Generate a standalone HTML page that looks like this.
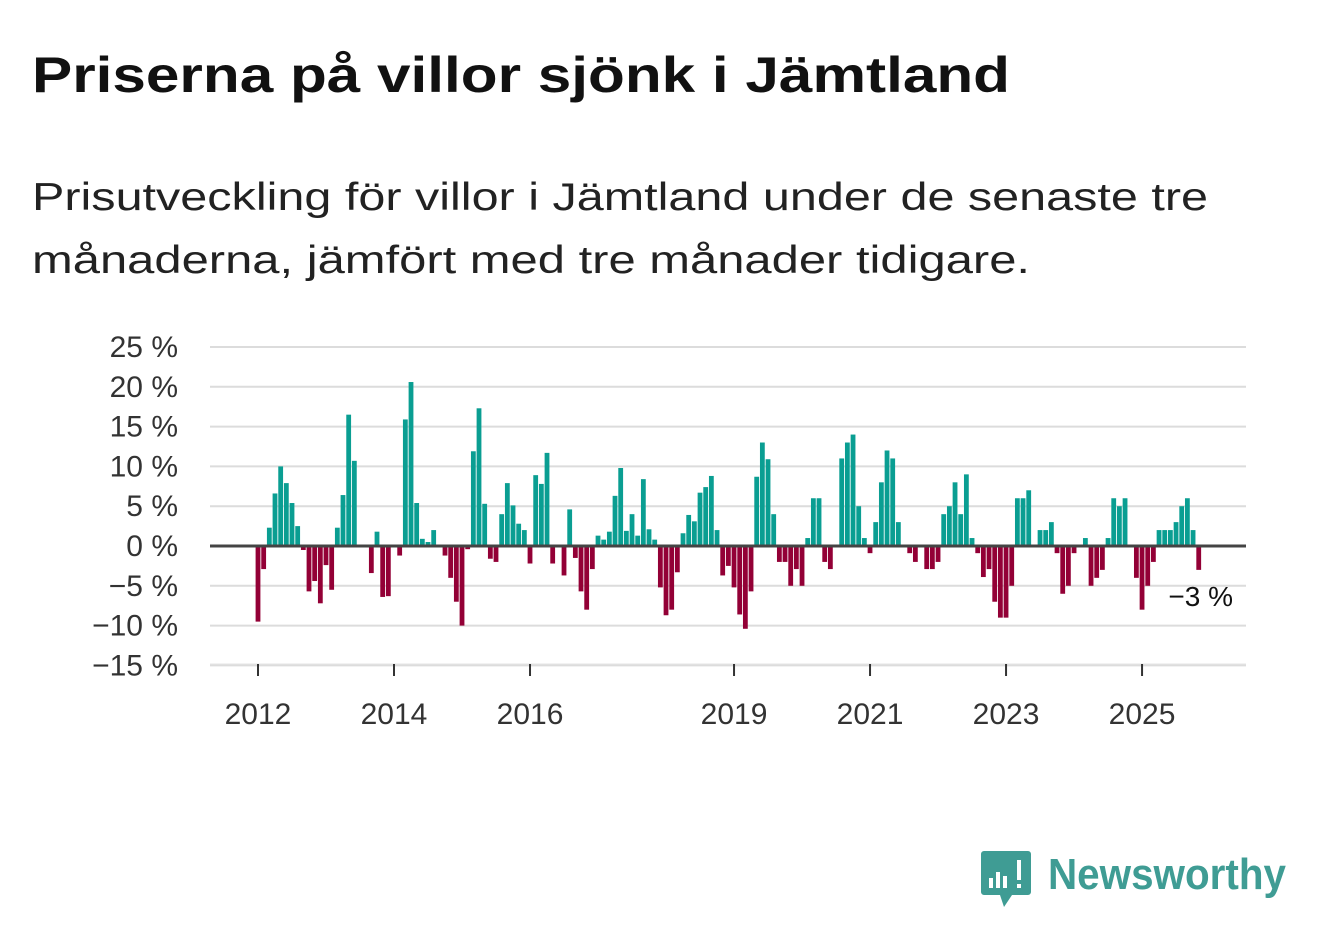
<!DOCTYPE html>
<html><head><meta charset="utf-8"><style>
html,body{margin:0;padding:0;background:#fff;}
svg{display:block;font-family:"Liberation Sans",sans-serif;}
</style></head><body>
<svg id="chart" width="1322" height="939" viewBox="0 0 1322 939" xmlns="http://www.w3.org/2000/svg">
<text x="32" y="92" font-size="50" font-weight="bold" fill="#111" textLength="978" lengthAdjust="spacingAndGlyphs">Priserna på villor sjönk i Jämtland</text>
<text x="32" y="210" font-size="39" fill="#222" textLength="1176" lengthAdjust="spacingAndGlyphs">Prisutveckling för villor i Jämtland under de senaste tre</text>
<text x="32" y="273" font-size="39" fill="#222" textLength="998" lengthAdjust="spacingAndGlyphs">månaderna, jämfört med tre månader tidigare.</text>
<g id="grid"></g>
<g id="bars"></g>
<g id="axes"></g>
<text x="1233" y="606" font-size="28" fill="#111" text-anchor="end">−3 %</text>
<g>
<path d="M984 851 h44 a3 3 0 0 1 3 3 v38 a3 3 0 0 1 -3 3 h-16 l-8 12 l-4 -12 h-16 a3 3 0 0 1 -3 -3 v-38 a3 3 0 0 1 3 -3z" fill="#3f9c94"/>
<rect x="989" y="878" width="4" height="10" fill="#fff"/>
<rect x="996" y="872" width="4" height="16" fill="#fff"/>
<rect x="1003" y="876" width="4" height="12" fill="#fff"/>
<rect x="1017" y="860" width="4" height="20" fill="#fff"/>
<rect x="1017" y="884" width="4" height="4" fill="#fff"/>
<text x="1048" y="889" font-size="44" font-weight="bold" fill="#3f9c94" textLength="238" lengthAdjust="spacingAndGlyphs">Newsworthy</text>
</g>
</svg>
<script>
const values = [-9.5,-2.9,2.3,6.6,10,7.9,5.4,2.5,-0.5,-5.7,-4.4,-7.2,
-2.4,-5.5,2.3,6.4,16.5,10.7,0,0,-3.4,1.8,-6.4,-6.3,
0,-1.2,15.9,20.6,5.4,0.9,0.5,2,0,-1.2,-4,-7,
-10,-0.4,11.9,17.3,5.3,-1.6,-2,4,7.9,5.1,2.8,2,
-2.2,8.9,7.8,11.7,-2.2,0,-3.7,4.6,-1.5,-5.7,-8,-2.9,
1.3,0.8,1.8,6.3,9.8,1.9,4,1.3,8.4,2.1,0.8,-5.2,
-8.7,-8,-3.3,1.6,3.9,3.1,6.7,7.4,8.8,2,-3.7,-2.5,
-5.2,-8.6,-10.4,-5.7,8.7,13,10.9,4,-2,-2,-5,-2.9,
-5,1,6,6,-2,-2.9,0,11,13,14,5,1,
-0.9,3,8,12,11,3,0,-0.9,-2,0,-2.9,-2.9,
-2,4,5,8,4,9,1,-0.9,-3.9,-2.9,-7,-9,
-9,-5,6,6,7,0,2,2,3,-0.9,-6,-5,
-0.9,0,1,-5,-4,-3,1,6,5,6,0,-4,
-8,-5,-2,2,2,2,3,5,6,2,-3];
const startYear = 2012;
const yTicks = [25,20,15,10,5,0,-5,-10,-15];
const yTickLabels = ["25 %","20 %","15 %","10 %","5 %","0 %","−5 %","−10 %","−15 %"];
const xTickYears = [2012,2014,2016,2019,2021,2023,2025];

const NS='http://www.w3.org/2000/svg';
const y0=546, pxPer=7.96, xStart=258, monthW=5.667;
const yScale=v=>y0-v*pxPer;
const xScale=i=>xStart+i*monthW;
const grid=document.getElementById('grid'), bars=document.getElementById('bars'), axes=document.getElementById('axes');
function mk(tag,attrs,parent){const e=document.createElementNS(NS,tag);for(const k in attrs)e.setAttribute(k,attrs[k]);parent.appendChild(e);return e;}
yTicks.forEach((t,k)=>{
  if(t!==0){const l=mk('line',{x1:210,x2:1246,y1:yScale(t),y2:yScale(t),stroke:'#dcdcdc','stroke-width':2},grid);
  
  }
  const tx=mk('text',{x:178,y:yScale(t)+10,'font-size':30,fill:'#333','text-anchor':'end'},axes);
  tx.textContent=yTickLabels[k];
  
  
});
values.forEach((v,i)=>{
  if(v===0)return;
  const y=yScale(Math.max(v,0)),h=Math.abs(v)*pxPer;
  const r=mk('rect',{x:xScale(i)-2.4,y:y,width:4.8,height:h,fill:v>0?'#0a9e92':'#930036'},bars);
  
  
});
const zl=mk('line',{x1:210,x2:1246,y1:y0,y2:y0,stroke:'#444','stroke-width':3},axes);


const bl=mk('line',{x1:210,x2:1246,y1:664,y2:664,stroke:'#e6e6e6','stroke-width':1},axes);


xTickYears.forEach(yr=>{
  const x=xScale((yr-startYear)*12);
  const tk=mk('line',{x1:x,x2:x,y1:664,y2:676,stroke:'#333','stroke-width':2},axes);
  
  
  const tx=mk('text',{x:x,y:724,'font-size':30,fill:'#333','text-anchor':'middle'},axes);
  tx.textContent=yr;
  
  
});
</script>
</body></html>
